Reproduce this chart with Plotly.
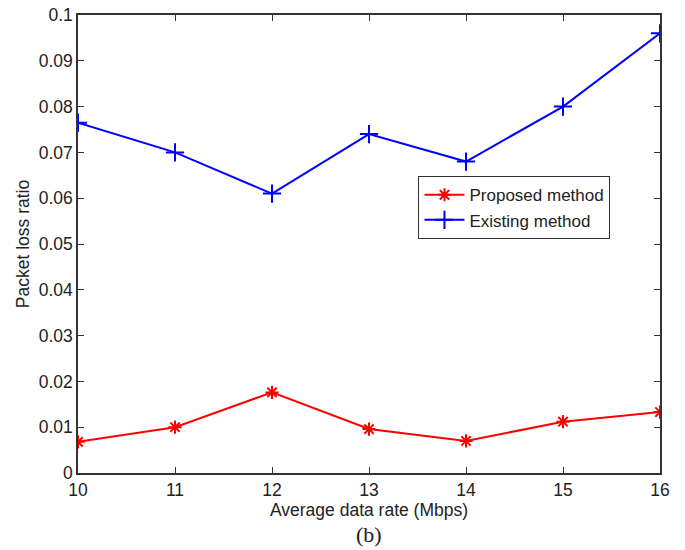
import plotly.graph_objects as go

rates = [10, 11, 12, 13, 14, 15, 16]
proposed = [0.0068, 0.0100, 0.0176, 0.0096, 0.0070, 0.0112, 0.0133]
existing = [0.0765, 0.0700, 0.0610, 0.0740, 0.0680, 0.0800, 0.0960]
y_ticks = [0, 0.01, 0.02, 0.03, 0.04, 0.05, 0.06, 0.07, 0.08, 0.09, 0.1]
y_labels = ["0", "0.01", "0.02", "0.03", "0.04", "0.05", "0.06", "0.07", "0.08", "0.09", "0.1"]

fig = go.Figure()
fig.add_trace(go.Scatter(x=rates, y=proposed, mode="lines+markers", name="Proposed method",
                         line=dict(color="#ff0000", width=2),
                         marker=dict(symbol="asterisk-open", size=11, color="#ff0000",
                                     line=dict(color="#ff0000", width=2))))
fig.add_trace(go.Scatter(x=rates, y=existing, mode="lines+markers", name="Existing method",
                         line=dict(color="#0000ff", width=2),
                         marker=dict(symbol="cross-thin-open", size=13, color="#0000ff",
                                     line=dict(color="#0000ff", width=2))))

axis_common = dict(showgrid=False, zeroline=False, showline=True, linecolor="#333333", linewidth=1.5,
                   mirror="ticks", ticks="inside", ticklen=6, tickcolor="#333333",
                   tickfont=dict(size=17.5, color="#222222"), automargin=False)
fig.update_xaxes(range=[10, 16], tickvals=rates, ticktext=[str(r) for r in rates],
                 title=dict(text="Average data rate (Mbps)", font=dict(size=17.5, color="#222222"), standoff=5),
                 **axis_common)
fig.update_yaxes(range=[0, 0.1], tickvals=y_ticks, ticktext=y_labels,
                 title=dict(text="Packet loss ratio", font=dict(size=17.5, color="#222222"), standoff=5),
                 **axis_common)

fig.add_annotation(text="(b)", xref="paper", yref="paper", x=0.5, y=-0.135, yanchor="middle",
                   showarrow=False, font=dict(family="Liberation Serif", size=22, color="#222222"))

fig.update_layout(
    width=685, height=550,
    margin=dict(l=78, r=25, t=15, b=77, pad=0, autoexpand=False),
    paper_bgcolor="white", plot_bgcolor="white",
    font=dict(family="Liberation Sans, Arial, sans-serif", color="#222222"),
    legend=dict(x=0.585, y=0.648, xanchor="left", yanchor="top",
                bgcolor="white", bordercolor="#333333", borderwidth=1,
                font=dict(size=17), tracegroupgap=0, itemwidth=40),
    showlegend=True,
)

fig.write_html("out.html", config={"displayModeBar": False},
               post_script="document.body.style.margin='0';")
